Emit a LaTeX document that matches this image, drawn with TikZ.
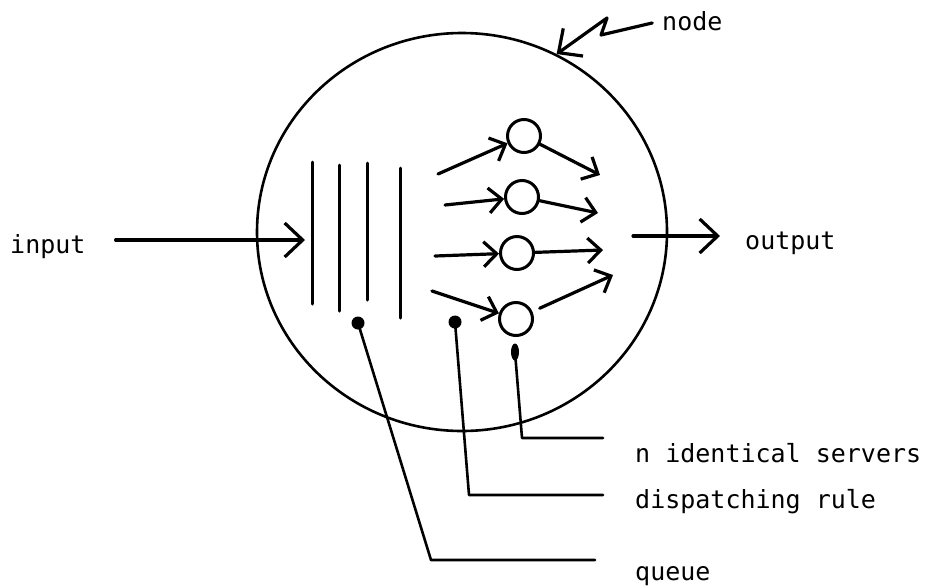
\documentclass[tikz,border=0pt]{standalone}
\usepackage{fontspec}
\setmonofont{DejaVu Sans Mono}
\usetikzlibrary{arrows.meta}
\usetikzlibrary{positioning}
\usetikzlibrary{shapes.geometric}

\begin{document}
\begin{tikzpicture}[x=1pt,y=-1pt,line cap=round,line join=round,
    lbl/.style={font=\fontsize{25}{28}\selectfont\ttfamily,inner sep=0pt},
    server/.style={circle,draw,line width=3pt,minimum size=33pt,inner sep=0pt},
    pin/.style={circle,fill,inner sep=0pt,minimum size=13pt},
    big/.style={-{Straight Barb[length=18pt,width=34pt]},line width=3.2pt},
    small/.style={-{Straight Barb[length=13pt,width=25pt]},line width=3.2pt},
    lead/.style={line width=2.6pt}]
   \useasboundingbox (0,0) rectangle (925,587);

   % the node
   \node[ellipse,draw,line width=2.6pt,minimum width=410pt,minimum height=398pt] (nd) at (462,232) {};
   \node[lbl,anchor=base west] (t_node) at (662,30) {node};
   \coordinate (z_1) at (601,35);
   \coordinate (z_2) at (607,18);
   \draw[big,shorten <=10pt] (t_node.west) -- (z_1) -- (z_2) -- (nd.62);

   % queue
   \foreach \x/\ya/\yb in {312/162/304, 339/165/311, 367/163/300, 400/168/318}
      \draw[line width=3pt] (\x,\ya) -- (\x,\yb);

   % servers
   \node[server] (s_1) at (524,136) {};
   \node[server] (s_2) at (522,197) {};
   \node[server] (s_3) at (517,253) {};
   \node[server] (s_4) at (516,319) {};
   \coordinate (d_1) at (438,174);
   \coordinate (d_2) at (445,205);
   \coordinate (d_3) at (435,256);
   \coordinate (d_4) at (432,291);
   \coordinate (o_1) at (600,175);
   \coordinate (o_2) at (598,213);
   \coordinate (o_3) at (603,250);
   \coordinate (o_4) at (613,275);
    \path[small]
    (d_1) edge (s_1)
    (d_2) edge (s_2)
    (d_3) edge (s_3)
    (d_4) edge (s_4)
    (s_1) edge (o_1)
    (s_2) edge (o_2)
    (s_3) edge (o_3)
    (s_4) edge[shorten <=8pt] (o_4);

   % input and output
   \node[lbl,anchor=base west] (t_in) at (10,253) {input};
   \coordinate (q_in) at (305,240);
   \draw[big,shorten <=30pt] (t_in.east |- q_in) -- (q_in);
   \node[lbl,anchor=base west] (t_out) at (745,249) {output};
   \coordinate (q_out) at (633,236);
   \draw[big,shorten >=25pt] (q_out) -- (t_out.west |- q_out);

   % labels
   \node[pin] (p_q) at (358,323) {};
   \node[pin] (p_d) at (455,322) {};
   \node[ellipse,fill,inner sep=0pt,minimum width=8pt,minimum height=17pt] (p_s) at (515,352) {};
   \node[lbl,anchor=base west] (t_s) at (635,462) {n identical servers};
   \node[lbl,anchor=base west] (t_d) at (635,508) {dispatching rule};
   \node[lbl,anchor=base west] (t_q) at (635,580) {queue};
   \coordinate (k_s) at (522,438);
   \coordinate (k_d) at (469,495);
   \coordinate (k_q) at (431,560);
   \draw[lead] (p_s.center) -- (k_s) -- ([xshift=-32pt]t_s.west |- k_s);
   \draw[lead] (p_d.center) -- (k_d) -- ([xshift=-32pt]t_d.west |- k_d);
   \draw[lead] (p_q.center) -- (k_q) -- ([xshift=-40pt]t_q.west |- k_q);
\end{tikzpicture}
\end{document}
